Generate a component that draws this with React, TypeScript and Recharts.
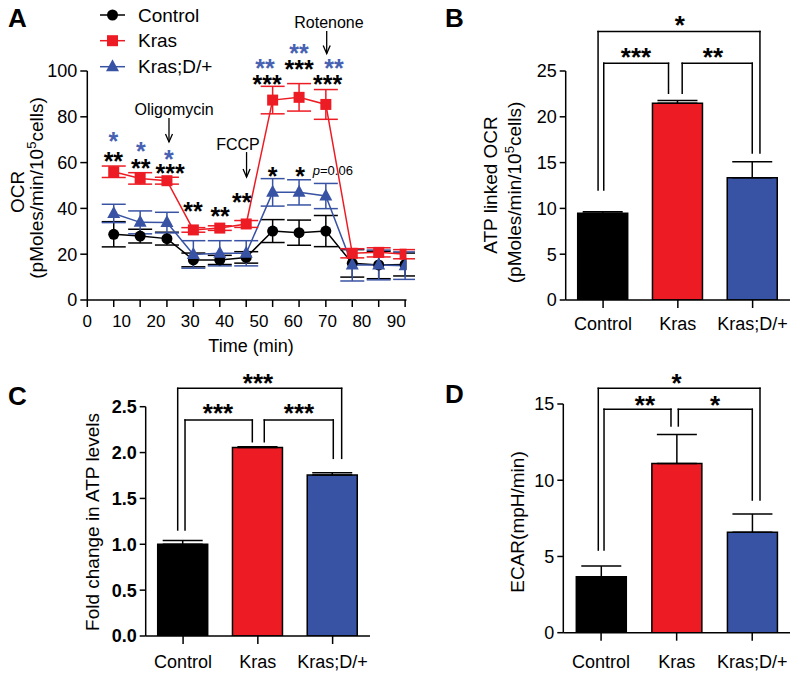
import React from 'react';
import { LineChart, Line, BarChart, Bar, Cell, XAxis, YAxis, ErrorBar, ReferenceLine, ReferenceDot } from 'recharts';

const FONT = '"Liberation Sans", Arial, Helvetica, sans-serif';
const RED = '#ed1c24';
const BLUE = '#3953a4';
const STAR_BLUE = '#4762b2';

// ---- Panel A: OCR time course (mean ± SEM) ----
const timeMin = [7.7, 15.4, 23.2, 30.9, 38.6, 46.3, 54.0, 61.7, 69.5, 77.2, 84.9, 92.6];
const timeLabels = [0, 10, 20, 30, 40, 50, 60, 70, 80, 90];
const controlOcr = [28.7, 27.9, 26.8, 17.5, 17.5, 18.6, 30.1, 29.4, 30.1, 16.0, 15.3, 15.5];
const controlSem = [5.5, 3.0, 2.8, 3.0, 2.0, 2.5, 5.0, 5.5, 6.8, 6.0, 6.0, 5.0];
const krasOcr = [56.0, 53.1, 52.1, 30.6, 31.4, 33.2, 87.3, 88.5, 85.4, 20.4, 20.8, 20.0];
const krasSem = [2.5, 2.5, 1.5, 1.0, 1.0, 1.5, 6.0, 6.0, 6.5, 2.0, 2.0, 2.0];
const krasDOcr = [37.8, 33.9, 33.8, 19.9, 20.4, 20.4, 47.0, 47.0, 45.4, 15.3, 15.3, 15.0];
const krasDSem = [4.0, 5.0, 4.5, 6.0, 5.5, 5.5, 6.0, 5.5, 5.5, 7.0, 6.5, 6.0];

// significance marks over panel A (time, baseline value, text)
const blackStars = [
  { t: 7.6, y: 56.8, s: '**' },
  { t: 15.6, y: 53.7, s: '**' },
  { t: 24.1, y: 51.5, s: '***' },
  { t: 30.8, y: 34.9, s: '**' },
  { t: 38.7, y: 32.8, s: '**' },
  { t: 45.0, y: 38.9, s: '**' },
  { t: 52.4, y: 90.4, s: '***' },
  { t: 61.7, y: 96.9, s: '***' },
  { t: 70.0, y: 90.4, s: '***' },
  { t: 54.0, y: 50.2, s: '*' },
  { t: 62.0, y: 50.2, s: '*' },
];
const blueStars = [
  { t: 7.6, y: 65.5, s: '*' },
  { t: 15.6, y: 61.1, s: '*' },
  { t: 23.8, y: 57.6, s: '*' },
  { t: 51.8, y: 97.4, s: '**' },
  { t: 61.7, y: 103.9, s: '**' },
  { t: 71.9, y: 97.4, s: '**' },
];
const injections = [
  { name: 'Oligomycin', t: 23.8, top: 79.5, bottom: 69.0, labelT: 25.3, labelY: 81.0 },
  { name: 'FCCP', t: 46.4, top: 64.6, bottom: 53.7, labelT: 43.9, labelY: 65.5 },
  { name: 'Rotenone', t: 69.75, top: 117.5, bottom: 107.6, labelT: 70.4, labelY: 118.6 },
];

// ---- Panels B, C, D: bar summaries ----
const groups = ['Control', 'Kras', 'Kras;D/+'];
const groupPos = [0.5, 1.5, 2.5];
const groupColors = ['#000000', RED, BLUE];
const atpOcr = [9.46, 21.47, 13.35];
const atpOcrSem = [0.18, 0.3, 1.75];
const atpFold = [1.0, 2.054, 1.756];
const atpFoldSem = [0.04, 0.01, 0.025];
const ecar = [3.67, 11.1, 6.59];
const ecarSem = [0.7, 1.9, 1.2];

// brackets: x in category units (0..3), y in data units
const bracketsB = [
  { x1: 0.433, x2: 2.598, y: 29.3, lb: 12.0, rb: 16.05, s: '*', lx: 1.527, ly: 29.04 },
  { x1: 0.509, x2: 1.375, y: 25.84, lb: 12.0, rb: 22.57, s: '***', lx: 0.94, ly: 25.58 },
  { x1: 1.558, x2: 2.495, y: 25.84, lb: 22.57, rb: 16.05, s: '**', lx: 1.969, ly: 25.58 },
];
const bracketsC = [
  { x1: 0.428, x2: 2.621, y: 2.7, lb: 1.156, rb: 1.937, s: '***', lx: 1.502, ly: 2.66 },
  { x1: 0.526, x2: 1.426, y: 2.355, lb: 1.156, rb: 2.118, s: '***', lx: 0.967, ly: 2.333 },
  { x1: 1.586, x2: 2.509, y: 2.355, lb: 2.118, rb: 1.937, s: '***', lx: 2.051, ly: 2.333 },
];
const bracketsD = [
  { x1: 0.463, x2: 2.603, y: 16.03, lb: 5.42, rb: 8.7, s: '*', lx: 1.5, ly: 15.79 },
  { x1: 0.539, x2: 1.425, y: 14.65, lb: 5.42, rb: 13.56, s: '**', lx: 1.081, ly: 14.34 },
  { x1: 1.522, x2: 2.501, y: 14.65, lb: 13.56, rb: 8.7, s: '*', lx: 2.007, ly: 14.34 },
];

const ocrRows = timeMin.map((t, i) => ({
  t,
  control: controlOcr[i],
  controlErr: controlSem[i],
  kras: krasOcr[i],
  krasErr: krasSem[i],
  krasD: krasDOcr[i],
  krasDErr: krasDSem[i],
}));

const barRows = (vals: number[], sems: number[]) =>
  groups.map((g, i) => ({ group: g, pos: groupPos[i], value: vals[i], err: [0, sems[i]] }));

const textShape = (label: string, size: number, color: string, bold = true) => (p: any) => (
  <text x={p.cx} y={p.cy} textAnchor="middle" fontSize={size} fontWeight={bold ? 700 : 400} fill={color} fontFamily={FONT}>
    {label}
  </text>
);

const arrowHead = (p: any) => (
  <path d={`M${p.cx - 3.5},${p.cy - 8} L${p.cx},${p.cy} L${p.cx + 3.5},${p.cy - 8}`} fill="none" stroke="#000" strokeWidth={1.3} />
);

const CircleDot = (p: any) => <circle key={p.key} cx={p.cx} cy={p.cy} r={5.5} fill="#000" />;
const SquareDot = (p: any) => <rect key={p.key} x={p.cx - 5.5} y={p.cy - 5.5} width={11} height={11} fill={RED} />;
const TriangleDot = (p: any) => (
  <path key={p.key} d={`M${p.cx},${p.cy - 7.5} L${p.cx + 6.5},${p.cy + 4.5} L${p.cx - 6.5},${p.cy + 4.5} Z`} fill={BLUE} />
);

const TimeTick = (props: any) => {
  const { x, y, payload } = props;
  const v = payload.value;
  const mark = v === 0 || timeMin.includes(v);
  const lab = timeLabels.includes(v);
  return (
    <g>
      {mark && <line x1={x} x2={x} y1={y} y2={y + 7} stroke="#000" strokeWidth={1.5} />}
      {lab && (
        <text x={x} y={y + 27} textAnchor="middle" fontSize={17} fill="#000" fontFamily={FONT}>
          {v}
        </text>
      )}
    </g>
  );
};

const allTimeTicks = [0, ...timeLabels.slice(1), ...timeMin].sort((a, b) => a - b);

function PanelA() {
  return (
    <LineChart width={415} height={345} data={ocrRows} margin={{ top: 71, right: 8.5, bottom: 0, left: 0 }}>
      <XAxis
        dataKey="t"
        type="number"
        domain={[0, 93]}
        ticks={allTimeTicks}
        interval={0}
        allowDataOverflow
        height={45}
        stroke="#000"
        strokeWidth={1.5}
        tickLine={false}
        tickSize={0}
        tickMargin={0}
        tick={TimeTick}
      />
      <YAxis
        domain={[0, 100]}
        ticks={[0, 20, 40, 60, 80, 100]}
        interval={0}
        allowDataOverflow
        width={87.3}
        stroke="#000"
        strokeWidth={1.5}
        tickSize={7}
        tickMargin={3}
        tick={{ fontSize: 18, fill: '#000', fontFamily: FONT }}
      />
      <Line dataKey="control" stroke="#000" strokeWidth={1.5} dot={CircleDot} activeDot={false} isAnimationActive={false}>
        <ErrorBar dataKey="controlErr" width={12} stroke="#000" strokeWidth={1.5} isAnimationActive={false} />
      </Line>
      <Line dataKey="krasD" stroke={BLUE} strokeWidth={1.5} dot={TriangleDot} activeDot={false} isAnimationActive={false}>
        <ErrorBar dataKey="krasDErr" width={12} stroke={BLUE} strokeWidth={1.5} isAnimationActive={false} />
      </Line>
      <Line dataKey="kras" stroke={RED} strokeWidth={1.5} dot={SquareDot} activeDot={false} isAnimationActive={false}>
        <ErrorBar dataKey="krasErr" width={12} stroke={RED} strokeWidth={1.5} isAnimationActive={false} />
      </Line>
      {blackStars.map((s, i) => (
        <ReferenceDot key={'k' + i} x={s.t} y={s.y} r={0} ifOverflow="visible" shape={textShape(s.s, 25, '#000')} />
      ))}
      {blueStars.map((s, i) => (
        <ReferenceDot key={'b' + i} x={s.t} y={s.y} r={0} ifOverflow="visible" shape={textShape(s.s, 25, STAR_BLUE)} />
      ))}
      {injections.map((a) => (
        <React.Fragment key={a.name}>
          <ReferenceLine
            segment={[{ x: a.t, y: a.top }, { x: a.t, y: a.bottom }]}
            stroke="#000"
            strokeWidth={1.3}
            ifOverflow="visible"
          />
          <ReferenceDot x={a.t} y={a.bottom} r={0} ifOverflow="visible" shape={arrowHead} />
          <ReferenceDot x={a.labelT} y={a.labelY} r={0} ifOverflow="visible" shape={textShape(a.name, 16, '#000', false)} />
        </React.Fragment>
      ))}
      <ReferenceDot
        x={65.7}
        y={54.8}
        r={0}
        ifOverflow="visible"
        shape={(p: any) => (
          <text x={p.cx} y={p.cy} fontSize={13} fill="#000" fontFamily={FONT}>
            <tspan fontStyle="italic">p</tspan>=0.06
          </text>
        )}
      />
    </LineChart>
  );
}

type BarPanelProps = {
  vals: number[];
  sems: number[];
  domain: [number, number];
  ticks: number[];
  fmt?: (v: number) => string;
  boldTicks?: boolean;
  brackets: typeof bracketsB;
  height: number;
  top: number;
  right: number;
  yWidth: number;
  xHeight: number;
  xMargin: number;
};

function BarPanel(p: BarPanelProps) {
  const data = barRows(p.vals, p.sems);
  return (
    <BarChart width={400} height={p.height} data={data} margin={{ top: p.top, right: p.right, bottom: 0, left: 0 }} barSize={50}>
      <XAxis
        xAxisId="cat"
        dataKey="group"
        height={p.xHeight}
        stroke="#000"
        strokeWidth={1.5}
        tickSize={8}
        tickMargin={p.xMargin}
        interval={0}
        tick={{ fontSize: 18, fill: '#000', fontFamily: FONT }}
      />
      <XAxis xAxisId="n" dataKey="pos" type="number" domain={[0, 3]} allowDataOverflow hide />
      <YAxis
        domain={p.domain}
        ticks={p.ticks}
        interval={0}
        allowDataOverflow
        width={p.yWidth}
        stroke="#000"
        strokeWidth={1.5}
        tickSize={6}
        tickMargin={3}
        tickFormatter={p.fmt}
        tick={{ fontSize: 18, fill: '#000', fontFamily: FONT, fontWeight: p.boldTicks ? 700 : 400 }}
      />
      <Bar xAxisId="cat" dataKey="value" stroke="#000" strokeWidth={1.5} isAnimationActive={false}>
        {data.map((d, i) => (
          <Cell key={d.group} fill={groupColors[i]} />
        ))}
        <ErrorBar dataKey="err" width={20} stroke="#000" strokeWidth={1.5} isAnimationActive={false} />
      </Bar>
      {p.brackets.map((b, i) => (
        <React.Fragment key={'br' + i}>
          <ReferenceLine xAxisId="n" segment={[{ x: b.x1, y: b.y }, { x: b.x2, y: b.y }]} stroke="#000" strokeWidth={1.5} ifOverflow="visible" strokeLinecap="square" />
          <ReferenceLine xAxisId="n" segment={[{ x: b.x1, y: b.y }, { x: b.x1, y: b.lb }]} stroke="#000" strokeWidth={1.5} ifOverflow="visible" strokeLinecap="square" />
          <ReferenceLine xAxisId="n" segment={[{ x: b.x2, y: b.y }, { x: b.x2, y: b.rb }]} stroke="#000" strokeWidth={1.5} ifOverflow="visible" strokeLinecap="square" />
          <ReferenceDot xAxisId="n" x={b.lx} y={b.ly} r={0} ifOverflow="visible" shape={textShape(b.s, 26, '#000')} />
        </React.Fragment>
      ))}
    </BarChart>
  );
}

const legendItems = [
  { name: 'Control', color: '#000', shape: 'circle', cy: 15, base: 21.5 },
  { name: 'Kras', color: RED, shape: 'square', cy: 40.7, base: 47 },
  { name: 'Kras;D/+', color: BLUE, shape: 'triangle', cy: 66.7, base: 73 },
];

function Overlay() {
  const title = { fontFamily: FONT, fontSize: 19, fill: '#000' };
  const letter = { fontFamily: FONT, fontSize: 26, fontWeight: 700, fill: '#000' };
  return (
    <svg width={800} height={677} style={{ position: 'absolute', left: 0, top: 0, pointerEvents: 'none' }}>
      <text x={8} y={27} {...letter}>A</text>
      <text x={445} y={27} {...letter}>B</text>
      <text x={8} y={405} {...letter}>C</text>
      <text x={445} y={403} {...letter}>D</text>

      {legendItems.map((l) => (
        <g key={l.name}>
          <line x1={100} x2={125} y1={l.cy} y2={l.cy} stroke={l.color} strokeWidth={1.5} />
          {l.shape === 'circle' && <circle cx={112.5} cy={l.cy} r={5.5} fill={l.color} />}
          {l.shape === 'square' && <rect x={107} y={l.cy - 5.5} width={11} height={11} fill={l.color} />}
          {l.shape === 'triangle' && (
            <path d={`M112.5,${l.cy - 7.5} L119,${l.cy + 4.5} L106,${l.cy + 4.5} Z`} fill={l.color} />
          )}
          <text x={138} y={l.base} {...title}>{l.name}</text>
        </g>
      ))}

      <text x={251} y={352} textAnchor="middle" {...title} fontSize={18}>Time (min)</text>

      <text transform="translate(24,192) rotate(-90)" textAnchor="middle" {...title}>OCR</text>
      <text transform="translate(43,188) rotate(-90)" textAnchor="middle" {...title}>
        <tspan>(pMoles/min/10</tspan>
        <tspan dy={-7} fontSize={13}>5</tspan>
        <tspan dy={7}>cells)</tspan>
      </text>

      <text transform="translate(497,185) rotate(-90)" textAnchor="middle" {...title}>ATP linked OCR</text>
      <text transform="translate(521,192.5) rotate(-90)" textAnchor="middle" {...title}>
        <tspan>(pMoles/min/10</tspan>
        <tspan dy={-7} fontSize={13}>5</tspan>
        <tspan dy={7}>cells)</tspan>
      </text>

      <text transform="translate(99,522) rotate(-90)" textAnchor="middle" {...title}>Fold change in ATP levels</text>
      <text transform="translate(524,522) rotate(-90)" textAnchor="middle" {...title}>ECAR(mpH/min)</text>
    </svg>
  );
}

export default function App() {
  return (
    <div style={{ position: 'absolute', left: 0, top: 0, width: 800, height: 677, background: '#fff', fontFamily: FONT }}>
      <div style={{ position: 'absolute', left: 0, top: 0 }}>
        <PanelA />
      </div>
      <div style={{ position: 'absolute', left: 400, top: 0 }}>
        <BarPanel
          vals={atpOcr}
          sems={atpOcrSem}
          domain={[0, 25]}
          ticks={[0, 5, 10, 15, 20, 25]}
          brackets={bracketsB}
          height={345}
          top={71}
          right={10}
          yWidth={165.7}
          xHeight={45}
          xMargin={9}
        />
      </div>
      <div style={{ position: 'absolute', left: 0, top: 340 }}>
        <BarPanel
          vals={atpFold}
          sems={atpFoldSem}
          domain={[0, 2.5]}
          ticks={[0, 0.5, 1, 1.5, 2, 2.5]}
          fmt={(v) => v.toFixed(1)}
          boldTicks
          brackets={bracketsC}
          height={337}
          top={66.7}
          right={30}
          yWidth={145.7}
          xHeight={41}
          xMargin={11}
        />
      </div>
      <div style={{ position: 'absolute', left: 400, top: 340 }}>
        <BarPanel
          vals={ecar}
          sems={ecarSem}
          domain={[0, 15]}
          ticks={[0, 5, 10, 15]}
          brackets={bracketsD}
          height={337}
          top={64}
          right={10}
          yWidth={163.3}
          xHeight={44.3}
          xMargin={14.5}
        />
      </div>
      <Overlay />
    </div>
  );
}
